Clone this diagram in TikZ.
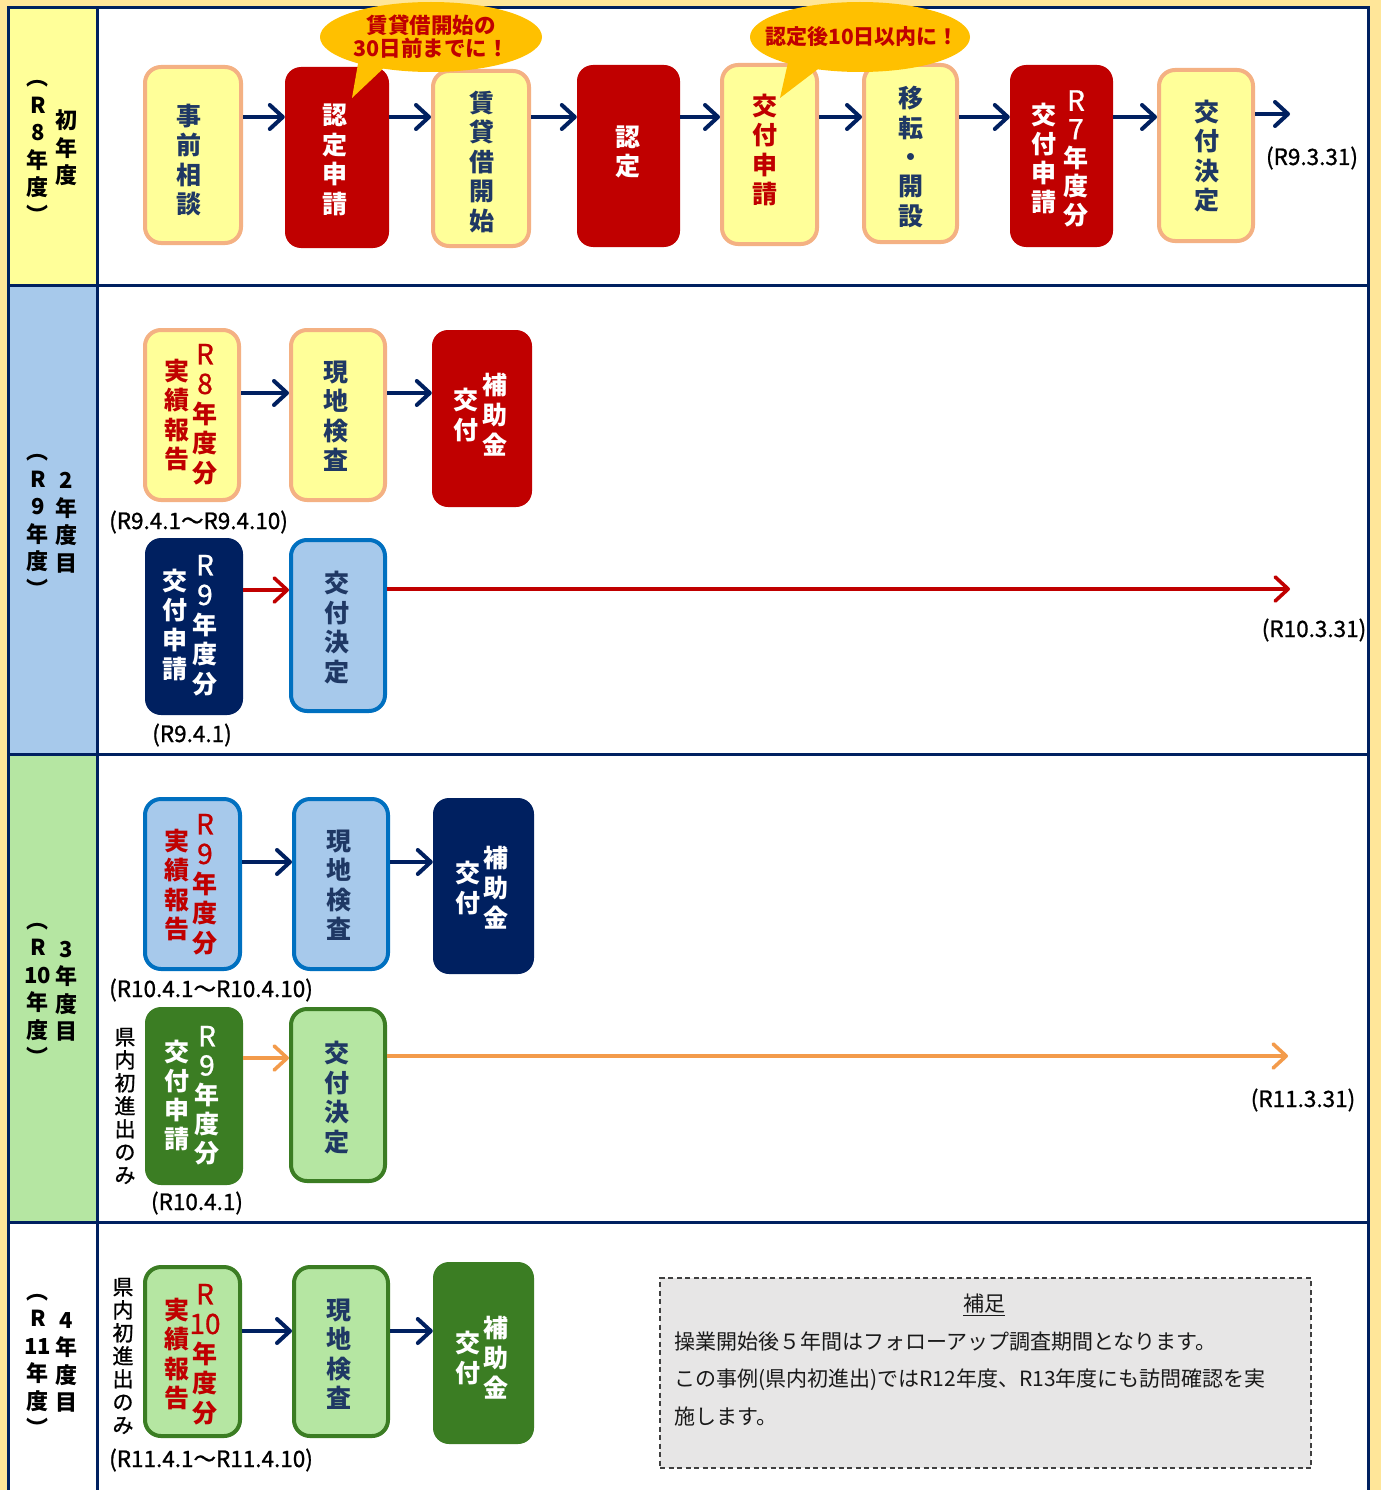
\documentclass[tikz,border=0pt]{standalone}
\usepackage{fontspec}
\setmainfont{Noto Sans CJK JP}
\newfontfamily\medjp[FakeBold=1]{Noto Sans CJK JP}
\usetikzlibrary{arrows.meta,shapes.geometric,calc}
\definecolor{cream}{HTML}{FFE699}
\definecolor{ylw}{HTML}{FFFF99}
\definecolor{salmon}{HTML}{F4B183}
\definecolor{dred}{HTML}{C00000}
\definecolor{navy}{HTML}{002060}
\definecolor{navyT}{HTML}{1F3864}
\definecolor{lblue}{HTML}{A7C9EB}
\definecolor{mblue}{HTML}{0070C0}
\definecolor{lgreen}{HTML}{B5E6A2}
\definecolor{dgreen}{HTML}{3B7D23}
\definecolor{orng}{HTML}{F39B4B}
\definecolor{gold}{HTML}{FFC000}
\definecolor{notegray}{HTML}{E7E6E6}
\definecolor{notedash}{HTML}{404040}
\newcommand{\ph}{\vphantom{年}}
\newcommand{\lat}[1]{{\medjp\mdseries\fontsize{28}{29.5}\selectfont #1}}
\begin{document}
\begin{tikzpicture}[x=1pt,y=-1pt,
  box/.style={rounded corners=16pt, inner sep=0pt},
  ybox/.style={box, fill=ylw, draw=salmon, line width=4pt},
  rbox/.style={box, fill=dred},
  nbox/.style={box, fill=navy},
  bbox/.style={box, fill=lblue, draw=mblue, line width=4pt},
  gbox/.style={box, fill=lgreen, draw=dgreen, line width=4pt},
  dgbox/.style={box, fill=dgreen},
  vtxt/.style={inner sep=0pt, align=center, font=\bfseries\fontsize{25}{29.5}\selectfont},
  navyv/.style={vtxt, text=navyT},
  redv/.style={vtxt, text=dred},
  whitev/.style={vtxt, text=white},
  sidelbl/.style={inner sep=0pt, align=center, text=black, font=\bfseries\fontsize{22}{27.5}\selectfont},
  kennai/.style={inner sep=0pt, align=center, text=black, font=\medjp\fontsize{21}{23}\selectfont},
  datelbl/.style={inner sep=0pt, text=black, font=\medjp\fontsize{22.5}{24}\selectfont},
  notetxt/.style={inner sep=0pt, text=black!90, font=\fontsize{21}{24}\selectfont},
  arr/.style={draw=navy, line width=4pt, -{Straight Barb[length=13pt,width=24pt,round]}},
  arrR/.style={draw=dred, line width=3.6pt, -{Straight Barb[length=13pt,width=24pt,round]}},
  arrO/.style={draw=orng, line width=3.6pt, -{Straight Barb[length=13pt,width=24pt,round]}},
  bubble/.style={ellipse, fill=gold, inner sep=0pt},
  bubtxt/.style={inner sep=0pt, align=center, text=dred, font=\bfseries\fontsize{21.5}{23}\selectfont}
]
\useasboundingbox (0,0) rectangle (1381,1490);
\clip (0,0) rectangle (1381,1490);
% background and frame
\fill[cream] (0,0) rectangle (1381,1490);
\fill[white] (8,8) rectangle (1368,1495);
\fill[ylw] (8,8) rectangle (97,285);
\fill[lblue] (8,285) rectangle (97,754);
\fill[lgreen] (8,754) rectangle (97,1222);
\draw[navy, line width=3pt] (8,1495) -- (8,8) -- (1368,8) -- (1368,1495);
\draw[navy, line width=3pt] (97,8) -- (97,1495);
\draw[navy, line width=3pt] (8,285) -- (1368,285);
\draw[navy, line width=3pt] (8,754) -- (1368,754);
\draw[navy, line width=3pt] (8,1222) -- (1368,1222);

% side labels
\node[sidelbl] (s1r) at (66,148) {初\\年\\度};
\node[sidelbl] (s1l) at (38,146) {\ph︵\\R\\8\\年\\度\\\ph︶};
\node[sidelbl] (s2r) at (66,521.5) {2\ph\\年\\度\\目};
\node[sidelbl] (s2l) at (38,520) {\ph︵\\R\\9\\年\\度\\\ph︶};
\node[sidelbl] (s3r) at (66,990) {3\ph\\年\\度\\目};
\node[sidelbl] (s3l) at (38,988.5) {\ph︵\\R\\10\\年\\度\\\ph︶};
\node[sidelbl] (s4r) at (66,1361) {4\ph\\年\\度\\目};
\node[sidelbl] (s4l) at (38,1359.5) {\ph︵\\R\\11\\年\\度\\\ph︶};

% ---------- Row 1 ----------
\coordinate (r1) at (0,117);
\node[ybox, minimum width=96, minimum height=176] (a1) at (193,155) {};
\node[navyv] (a1t) at (189,160) {事\\前\\相\\談};
\node[rbox, minimum width=104, minimum height=181] (a2) at (337,157.5) {};
\node[whitev] (a2t) at (335,160) {認\\定\\申\\請};
\node[ybox, minimum width=96, minimum height=175] (a3) at (481,158.5) {};
\node[navyv] (a3t) at (482,162) {賃\\貸\\借\\開\\始};
\node[rbox, minimum width=103, minimum height=182] (a4) at (628.5,156) {};
\node[whitev] (a4t) at (628,152) {認\\定};
\node[ybox, minimum width=95, minimum height=179] (a5) at (769.5,154.5) {};
\node[redv] (a5t) at (765,150) {交\\付\\申\\請};
\node[ybox, minimum width=93, minimum height=177] (a6) at (910.5,153.5) {};
\node[navyv] (a6t) at (911,157) {移\\転\\・\\開\\設};
\node[rbox, minimum width=103, minimum height=182] (a7) at (1061.5,156) {};
\node[whitev, font=\bfseries\fontsize{25}{28.3}\selectfont] (a7r) at (1076,158) {\lat{R}\ph\\\lat{7}\\年\\度\\分};
\node[whitev, font=\bfseries\fontsize{25}{29}\selectfont] (a7l) at (1044,158) {交\\付\\申\\請};
\node[ybox, minimum width=94, minimum height=171] (a8) at (1206,155.5) {};
\node[navyv] (a8t) at (1207,156) {交\\付\\決\\定};
\coordinate (e1) at (1290,114);
\draw[arr] (a1.east |- r1) -- (a2.west |- r1);
\draw[arr] (a2.east |- r1) -- (a3.west |- r1);
\draw[arr] (a3.east |- r1) -- (a4.west |- r1);
\draw[arr] (a4.east |- r1) -- (a5.west |- r1);
\draw[arr] (a5.east |- r1) -- (a6.west |- r1);
\draw[arr] (a6.east |- r1) -- (a7.west |- r1);
\draw[arr] (a7.east |- r1) -- (a8.west |- r1);
\draw[arr] (a8.east |- e1) -- (e1);
\node[datelbl] (l1) at (1312,158) {(R9.3.31)};

% callouts
\node[bubble, minimum width=222, minimum height=70] (co1) at (431,37) {};
\coordinate (co1a) at (359,58);
\coordinate (co1b) at (388,64);
\coordinate (co1t) at (352,98);
\fill[gold] (co1a) -- (co1t) -- (co1b) -- cycle;
\node[bubtxt] (co1x) at (431,36.5) {賃貸借開始の\\30日前までに！};
\node[bubble, minimum width=220, minimum height=70] (co2) at (860,37) {};
\coordinate (co2a) at (789,58);
\coordinate (co2b) at (822,66);
\coordinate (co2t) at (780,98);
\fill[gold] (co2a) -- (co2t) -- (co2b) -- cycle;
\node[bubtxt, font=\bfseries\fontsize{21}{23}\selectfont] (co2x) at (862,37) {認定後10日以内に！};

% ---------- Row 2 ----------
\coordinate (r2) at (0,393);
\node[ybox, minimum width=94, minimum height=170] (b1) at (192,415) {};
\node[redv] (b1r) at (205,414) {\lat{R}\ph\\\lat{8}\\年\\度\\分};
\node[redv] (b1l) at (177,415) {実\\績\\報\\告};
\node[ybox, minimum width=94, minimum height=170] (b2) at (338,415) {};
\node[navyv] (b2t) at (336,416) {現\\地\\検\\査};
\node[rbox, minimum width=100, minimum height=177] (b3) at (482,418.5) {};
\node[whitev, font=\bfseries\fontsize{25}{30}\selectfont] (b3r) at (495,415) {補\\助\\金};
\node[whitev, font=\bfseries\fontsize{25}{30}\selectfont] (b3l) at (466,415) {交\\付};
\draw[arr] (b1.east |- r2) -- (b2.west |- r2);
\draw[arr] (b2.east |- r2) -- (b3.west |- r2);
\node[datelbl, anchor=west] (l2) at (109,522) {(R9.4.1～R9.4.10)};
\coordinate (r2b) at (0,590);
\node[nbox, minimum width=98, minimum height=177] (b4) at (194,626.5) {};
\node[whitev] (b4r) at (205,625) {\lat{R}\ph\\\lat{9}\\年\\度\\分};
\node[whitev] (b4l) at (175,625) {交\\付\\申\\請};
\node[bbox, minimum width=94, minimum height=171] (b5) at (338,625.5) {};
\node[navyv] (b5t) at (337,627.5) {交\\付\\決\\定};
\coordinate (e2) at (1290,589);
\draw[arrR] (b4.east |- r2b) -- (b5.west |- r2b);
\draw[arrR] (b5.east |- e2) -- (e2);
\node[datelbl] (l3) at (192,735) {(R9.4.1)};
\node[datelbl] (l4) at (1314,630) {(R10.3.31)};

% ---------- Row 3 ----------
\coordinate (r3) at (0,862);
\node[bbox, minimum width=95, minimum height=170] (c1) at (192.5,884) {};
\node[redv] (c1r) at (205,884) {\lat{R}\ph\\\lat{9}\\年\\度\\分};
\node[redv] (c1l) at (177,885) {実\\績\\報\\告};
\node[bbox, minimum width=94, minimum height=170] (c2) at (341,884) {};
\node[navyv] (c2t) at (339,885) {現\\地\\検\\査};
\node[nbox, minimum width=101, minimum height=176] (c3) at (483.5,886) {};
\node[whitev, font=\bfseries\fontsize{25}{30}\selectfont] (c3r) at (496,888) {補\\助\\金};
\node[whitev, font=\bfseries\fontsize{25}{30}\selectfont] (c3l) at (468,888) {交\\付};
\draw[arr] (c1.east |- r3) -- (c2.west |- r3);
\draw[arr] (c2.east |- r3) -- (c3.west |- r3);
\node[datelbl, anchor=west] (l5) at (109,990) {(R10.4.1～R10.4.10)};
\node[kennai] (k3) at (125,1106) {県\\内\\初\\進\\出\\の\\み};
\coordinate (r3b) at (0,1058);
\node[dgbox, minimum width=98, minimum height=178] (c4) at (194,1096) {};
\node[whitev, font=\bfseries\fontsize{25}{29}\selectfont] (c4r) at (207,1095) {\lat{R}\ph\\\lat{9}\\年\\度\\分};
\node[whitev, font=\bfseries\fontsize{25}{29}\selectfont] (c4l) at (177,1095) {交\\付\\申\\請};
\node[gbox, minimum width=94, minimum height=172] (c5) at (338,1095) {};
\node[navyv] (c5t) at (337,1097.5) {交\\付\\決\\定};
\coordinate (e3) at (1288,1056);
\draw[arrO] (c4.east |- r3b) -- (c5.west |- r3b);
\draw[arrO] (c5.east |- e3) -- (e3);
\node[datelbl] (l6) at (197,1203) {(R10.4.1)};
\node[datelbl] (l7) at (1303,1100) {(R11.3.31)};

% ---------- Row 4 ----------
\coordinate (r4) at (0,1331);
\node[kennai] (k4) at (123,1356) {県\\内\\初\\進\\出\\の\\み};
\node[gbox, minimum width=95, minimum height=169] (d1) at (192.5,1351.5) {};
\node[redv] (d1r) at (205,1354) {\lat{R}\ph\\\lat{10}\\年\\度\\分};
\node[redv] (d1l) at (177,1354) {実\\績\\報\\告};
\node[gbox, minimum width=94, minimum height=169] (d2) at (341,1351.5) {};
\node[navyv] (d2t) at (339,1354) {現\\地\\検\\査};
\node[dgbox, minimum width=101, minimum height=182] (d3) at (483.5,1353) {};
\node[whitev, font=\bfseries\fontsize{25}{30}\selectfont] (d3r) at (496,1358) {補\\助\\金};
\node[whitev, font=\bfseries\fontsize{25}{30}\selectfont] (d3l) at (468,1358) {交\\付};
\draw[arr] (d1.east |- r4) -- (d2.west |- r4);
\draw[arr] (d2.east |- r4) -- (d3.west |- r4);
\node[datelbl, anchor=west] (l8) at (109,1460) {(R11.4.1～R11.4.10)};

% note
\node[draw=notedash, fill=notegray, line width=1.3pt, dash pattern=on 5pt off 3.5pt, minimum width=651, minimum height=190, inner sep=0pt] (note) at (985.5,1373) {};
\node[notetxt] (n0) at (984,1305) {\underline{補足}};
\node[notetxt, anchor=west] (n1) at (674,1342) {操業開始後５年間はフォローアップ調査期間となります。};
\node[notetxt, anchor=west] (n2) at (674,1380) {この事例(県内初進出)ではR12年度、R13年度にも訪問確認を実};
\node[notetxt, anchor=west] (n3) at (674,1417) {施します。};
\end{tikzpicture}
\end{document}
